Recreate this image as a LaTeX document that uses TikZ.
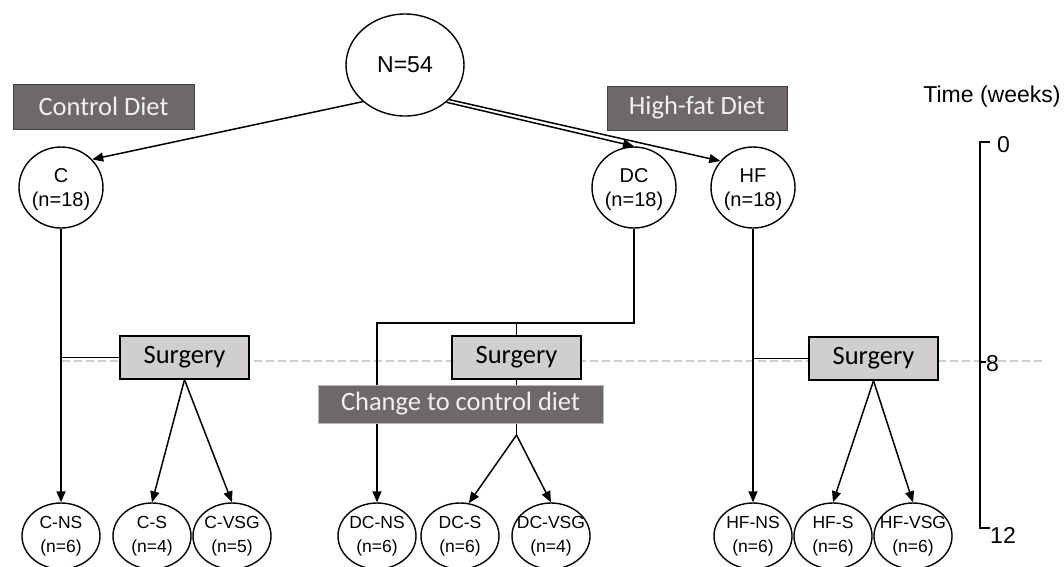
\documentclass[tikz,border=0pt]{standalone}
\usepackage{fontspec}
\setmainfont{Liberation Sans}
\newfontfamily\calib{Carlito}
\usepackage{tikz}
\usetikzlibrary{arrows.meta,shapes.geometric}
\definecolor{dietgray}{RGB}{110,104,104}
\definecolor{surggray}{RGB}{208,206,206}
\definecolor{dashgray}{RGB}{205,205,205}

\begin{document}
\begin{tikzpicture}[x=1pt,y=-1pt,
  grp/.style={ellipse,draw,line width=1.4pt,inner sep=0pt,minimum width=84pt,minimum height=81pt,
    label={[align=center,font=\fontsize{20}{24}\selectfont,yshift=-2pt]center:#1}},
  sub/.style={ellipse,draw,line width=1.4pt,inner sep=-8pt,minimum width=78pt,minimum height=66pt,align=center,font=\fontsize{17.5}{23.5}\selectfont},
  dietbox/.style={draw=black!75,line width=1pt,fill=dietgray,text=white!94!black,inner sep=0pt,font=\calib\fontsize{26.5}{30}\selectfont},
  surgbox/.style={draw,line width=1.5pt,fill=surggray,minimum width=129pt,minimum height=43pt,inner sep=0pt,font=\calib\fontsize{26.5}{30}\selectfont},
  arr/.style={line width=1.5pt,-{Triangle[length=11pt,width=9pt]}},
  link/.style={line width=1.5pt},
  axisline/.style={line width=2.2pt},
  axislbl/.style={anchor=west,inner sep=0pt,font=\fontsize{23}{25}\selectfont}]
\useasboundingbox (0,0) rectangle (1064,566);
\clip (0,0) rectangle (1064,566);

\draw[dashgray,line width=1.6pt,dash pattern=on 8pt off 4pt] (62,361) -- (1045,361);

\node[ellipse,draw,line width=1.4pt,minimum width=118pt,minimum height=102pt,inner sep=0pt,font=\fontsize{23}{26}\selectfont] (N54) at (405,65) {N=54};
\node[dietbox,minimum width=181pt,minimum height=45pt] (ctrl) at (103.5,106.5) {Control Diet};
\node[dietbox,minimum width=180pt,minimum height=44pt] (hfd) at (697,108) {High-fat Diet};

\node[grp={C\\(n=18)}] (C) at (61,187.5) {};
\node[grp={DC\\(n=18)}] (DC) at (634,187.5) {};
\node[grp={HF\\(n=18)}] (HF) at (753,187.5) {};

\node[surgbox] (Cs) at (184.5,357.5) {Surgery};
\node[surgbox] (DCs) at (516.5,357.5) {Surgery};
\node[surgbox] (HFs) at (873.5,358.5) {Surgery};

\node[sub] (CNS) at (61,536) {C-NS\\(n=6)};
\node[sub] (CS) at (152,536) {C-S\\(n=4)};
\node[sub] (CVSG) at (232,536) {C-VSG\\(n=5)};
\node[sub] (DCNS) at (377,536) {DC-NS\\(n=6)};
\node[sub] (DCS) at (460,536) {DC-S\\(n=6)};
\node[sub] (DCVSG) at (551,536) {DC-VSG\\(n=4)};
\node[sub] (HFNS) at (753,536) {HF-NS\\(n=6)};
\node[sub] (HFS) at (833,536) {HF-S\\(n=6)};
\node[sub] (HFVSG) at (913,536) {HF-VSG\\(n=6)};

\draw[arr] (N54.221) -- (C.42);
\draw[arr] (N54.318) -- (DC.north);
\draw[arr] (N54.322) -- (HF.141);

\draw[arr] (C.south) -- (CNS.north);
\draw[link] (C.south |- Cs.west) -- (Cs.west);
\draw[arr] (Cs.south) -- (CS.north);
\draw[arr] (Cs.south) -- (CVSG.north);

\coordinate (dcsplit) at (516.5,323);
\coordinate (dcfork) at (516.5,435);
\draw[arr] (DC.south) |- (dcsplit) -| (DCNS.north);
\draw[link] (dcsplit) -- (DCs.north);
\draw[link] (DCs.south) -- (dcfork);
\draw[arr] (dcfork) -- (DCS.75);
\draw[arr] (dcfork) -- (DCVSG.north);

\draw[arr] (HF.south) -- (HFNS.north);
\draw[link] (HF.south |- HFs.west) -- (HFs.west);
\draw[arr] (HFs.south) -- (HFS.north);
\draw[arr] (HFs.south) -- (HFVSG.north);

\node[dietbox,draw=gray!55,minimum width=285pt,minimum height=38pt] (chg) at (460.5,404) {Change to control diet};

\node[font=\fontsize{23}{25}\selectfont] (tlbl) at (992,97) {Time (weeks)};
\coordinate (t0) at (980,142);
\coordinate (t8) at (980,362);
\coordinate (t12) at (980,528);
\draw[axisline] ([xshift=10pt]t0) -- (t0) -- (t12) -- ([xshift=10pt]t12);
\draw[axisline] (t8) -- ([xshift=6pt]t8);
\node[axislbl] (w0) at (997,145) {0};
\node[axislbl] (w8) at (986,364) {8};
\node[axislbl] (w12) at (990,535) {12};
\end{tikzpicture}
\end{document}
